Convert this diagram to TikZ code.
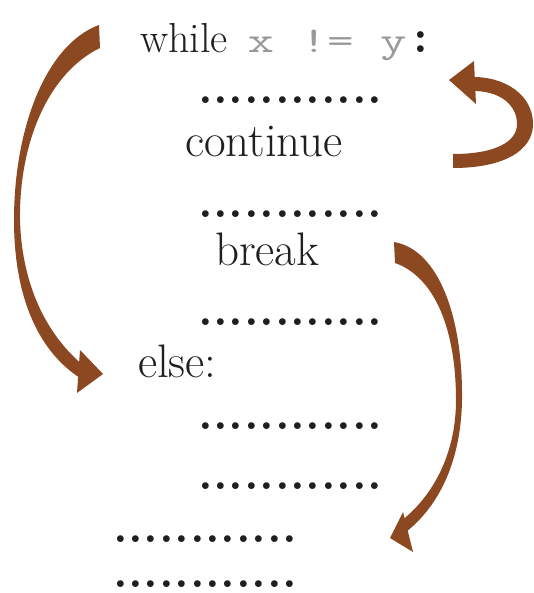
\documentclass[tikz,border=0pt]{standalone}
\usepackage{graphicx}
\definecolor{arrowbrown}{RGB}{140,72,32}
\def\dk{\makebox[15.4pt][c]{\bfseries .}}
\def\dotrow{\dk\dk\dk\dk\dk\dk\dk\dk\dk\dk\dk\dk}
\begin{document}
\begin{tikzpicture}[x=1pt,y=-1pt,
  txt/.style={anchor=base west,inner sep=0pt,outer sep=0pt,text=black!88},
  big/.style={font=\fontsize{47}{47}\selectfont},
  brush/.style={fill=arrowbrown,draw=none}]
\useasboundingbox (0,0) rectangle (533,593);
\fill[white] (0,0) rectangle (533,593);
% code lines
\node[txt] (wh) at (140,53) {\fontsize{42}{42}\selectfont while\hspace{20pt}{\color{black!40}\scalebox{1.43}[1]{\fontsize{36}{36}\selectfont\ttfamily x != y}}\hspace{7pt}\fontsize{47}{47}\selectfont\bfseries :};
\node[txt,big] (d1) at (197.8,103.5) {\dotrow};
\node[txt,big] (cont) at (185,157) {continue};
\node[txt,big] (d2) at (197.8,217.5) {\dotrow};
\node[txt,big] (brk) at (215,265) {break};
\node[txt,big] (d3) at (197.8,325.5) {\dotrow};
\node[txt,big] (els) at (138,377) {else:};
\node[txt,big] (d4) at (197.8,429.5) {\dotrow};
\node[txt,big] (d5) at (197.8,489.5) {\dotrow};
\node[txt,big] (d6) at (112.8,542.5) {\dotrow};
\node[txt,big] (d7) at (112.8,587) {\dotrow};
% left arrow: while -> else
\fill[brush] (99,25) .. controls (45,45) and (14,130) .. (14,220) .. controls (14,300) and (40,352) .. (80,378) -- (84,366) .. controls (50,338) and (22,290) .. (20,220) .. controls (19,140) and (50,72) .. (100,48) -- cycle;
\fill[brush] (80,350) -- (103,374) -- (77,393) -- cycle;
% continue -> while
\fill[brush] (453,168) .. controls (505,168) and (533,150) .. (533,124) .. controls (533,95) and (505,76) .. (470,77) -- (470,91) .. controls (500,90) and (517,105) .. (517,124) .. controls (517,142) and (495,154) .. (453,154) -- cycle;
\fill[brush] (449,80) -- (474,61) -- (476,104) -- cycle;
% break -> after loop
\fill[brush] (394,242) .. controls (440,250) and (463,320) .. (462,400) .. controls (461,460) and (440,505) .. (406,532) -- (401,521) .. controls (432,497) and (456,455) .. (456,400) .. controls (456,330) and (435,277) .. (395,263) -- cycle;
\fill[brush] (390,538) -- (403,512) -- (413,552) -- cycle;
\end{tikzpicture}
\end{document}
